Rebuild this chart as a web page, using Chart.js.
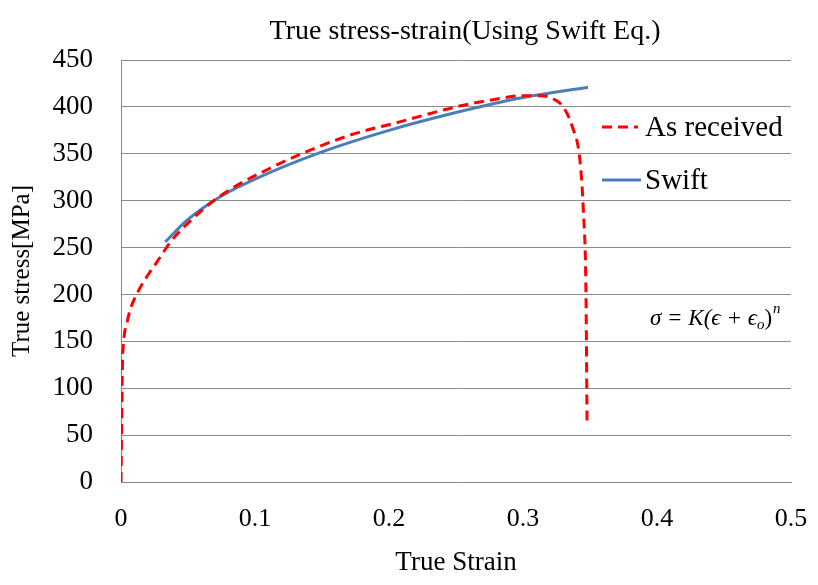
<!DOCTYPE html>
<html>
<head>
<meta charset="utf-8">
<script src="https://cdn.jsdelivr.net/npm/chart.js@4.4.0/dist/chart.umd.min.js"></script>
<style>
  html, body { margin: 0; padding: 0; background: #fff; }
  #wrap { width: 818px; height: 585px; }
</style>
</head>
<body>
<div id="wrap"><canvas id="stress-chart"></canvas></div>
<script>
    // As received (measured) curve
    var receivedStrain = [0, 0.0005, 0.001, 0.002, 0.0045, 0.0067, 0.012, 0.018, 0.027, 0.037, 0.05, 0.072,
        0.109, 0.169, 0.208, 0.25, 0.283, 0.3, 0.313, 0.322, 0.33, 0.337, 0.3425, 0.345, 0.347, 0.3478];
    var receivedStress = [0, 60, 120, 150, 170, 183, 201, 216, 235, 256, 276, 303,
        333, 369, 384, 400, 409, 412, 412, 409, 400, 378, 343, 290, 200, 62];

    // Swift fit
    var swiftStrain = [0.033, 0.05, 0.075, 0.1, 0.15, 0.2, 0.25, 0.3, 0.3485];
    var swiftStress = [256, 280, 305, 323, 352, 375, 394, 410, 421];

    var xTickLabels = ['0', '0.1', '0.2', '0.3', '0.4', '0.5'];
    var yTickLabels = ['0', '50', '100', '150', '200', '250', '300', '350', '400', '450'];

    var chartTitle = 'True stress-strain(Using Swift Eq.)';
    var serif = '"Liberation Serif", "Times New Roman", serif';

    function toPoints(xs, ys) {
        return xs.map(function (x, i) { return { x: x, y: ys[i] }; });
    }

    // title, legend + formula drawn by hand, like the original
    var overlayPlugin = {
        id: 'overlay',
        afterDatasetsDraw: function (chart) {
            var ctx = chart.ctx;
            var area = chart.chartArea;
            ctx.save();
            ctx.fillStyle = '#000';
            ctx.textBaseline = 'middle';
            ctx.textAlign = 'center';
            ctx.font = '28px ' + serif;
            ctx.fillText(chartTitle, (area.left + area.right) / 2 + 9, 32);
            ctx.textAlign = 'left';

            var lx = area.right - 189;
            ctx.lineWidth = 3;
            ctx.strokeStyle = '#ff0000';
            ctx.setLineDash([10, 6]);
            ctx.beginPath();
            ctx.moveTo(lx, area.top + 67);
            ctx.lineTo(lx + 36, area.top + 67);
            ctx.stroke();
            ctx.setLineDash([]);
            ctx.strokeStyle = '#4a7ebb';
            ctx.beginPath();
            ctx.moveTo(lx, area.top + 120);
            ctx.lineTo(lx + 39, area.top + 120);
            ctx.stroke();

            ctx.font = '29px ' + serif;
            ctx.fillText('As received', lx + 43, area.top + 68);
            ctx.fillText('Swift', lx + 43, area.top + 121);

            // formula
            var fx = area.right - 141;
            var fy = area.top + 259;
            ctx.font = 'italic 23px ' + serif;
            var main = '\u03c3 = K(\u03f5 + \u03f5';
            ctx.fillText(main, fx, fy);
            fx += ctx.measureText(main).width;
            ctx.font = 'italic 15px ' + serif;
            ctx.fillText('o', fx, fy + 6);
            fx += ctx.measureText('o').width;
            ctx.font = '23px ' + serif;
            ctx.fillText(')', fx, fy);
            fx += ctx.measureText(')').width;
            ctx.font = 'italic 15px ' + serif;
            ctx.fillText('n', fx + 1, fy - 10);
            ctx.restore();
        }
    };

    new Chart(document.getElementById('stress-chart'), {
        type: 'line',
        data: {
            datasets: [{
                label: 'As received',
                data: toPoints(receivedStrain, receivedStress),
                borderColor: '#ff0000',
                borderWidth: 3,
                borderDash: [10, 6],
                pointRadius: 0,
                cubicInterpolationMode: 'monotone',
                fill: false
            }, {
                label: 'Swift',
                data: toPoints(swiftStrain, swiftStress),
                borderColor: '#4a7ebb',
                borderWidth: 3,
                pointRadius: 0,
                cubicInterpolationMode: 'monotone',
                fill: false
            }]
        },
        options: {
            responsive: true,
            maintainAspectRatio: false,
            animation: false,
            layout: { padding: { top: 60, right: 27, bottom: 0, left: 0 } },
            plugins: {
                legend: { display: false },
                tooltip: { enabled: false },
                title: { display: false }
            },
            scales: {
                x: {
                    type: 'linear',
                    min: 0,
                    max: 0.5,
                    afterFit: function (scale) {
                        scale.height = 103;
                        scale.paddingLeft = 0;
                        scale.paddingRight = 0;
                    },
                    ticks: {
                        stepSize: 0.1,
                        padding: 22,
                        color: '#000',
                        font: { family: serif, size: 26 },
                        callback: function (v, i) { return xTickLabels[i]; }
                    },
                    grid: { display: false, drawTicks: false },
                    border: { display: true, color: '#888', width: 1 },
                    title: {
                        display: true,
                        text: 'True Strain',
                        color: '#000',
                        font: { family: serif, size: 27 },
                        padding: { top: 0, bottom: 6 }
                    }
                },
                y: {
                    min: 0,
                    max: 450,
                    afterFit: function (scale) {
                        scale.width = 121;
                        scale.paddingTop = 0;
                        scale.paddingBottom = 0;
                    },
                    ticks: {
                        stepSize: 50,
                        padding: 28,
                        color: '#000',
                        font: { family: serif, size: 27 },
                        callback: function (v, i) { return yTickLabels[i]; }
                    },
                    grid: { color: '#8c8c8c', lineWidth: 1, drawTicks: false },
                    border: { display: true, color: '#888', width: 1 },
                    title: {
                        display: true,
                        text: 'True stress[MPa]',
                        color: '#000',
                        font: { family: serif, size: 25 },
                        padding: { top: 7, bottom: 0 }
                    }
                }
            }
        },
        plugins: [overlayPlugin]
    });
</script>
</body>
</html>
